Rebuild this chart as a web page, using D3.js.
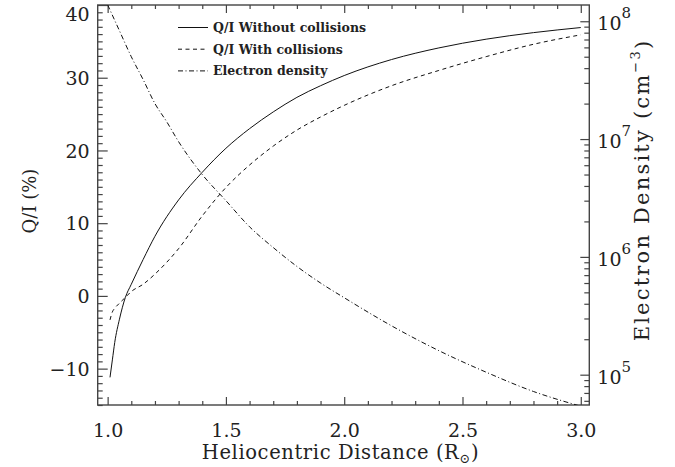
<!DOCTYPE html>
<html>
<head>
<meta charset="utf-8">
<script src="https://cdn.jsdelivr.net/npm/d3@7/dist/d3.min.js"></script>
<style>
  body { margin: 0; background: #fff; }
  svg text { font-family: "DejaVu Serif", serif; fill: #222; }
</style>
</head>
<body>
<svg id="chart" width="675" height="467"></svg>
<script>
// Q/I and electron density vs heliocentric distance

// Q/I curves (%), sampled on one distance grid (R_sun)
const distance = [1.01, 1.02, 1.03, 1.05, 1.075, 1.1, 1.15, 1.2, 1.3, 1.4, 1.5, 1.6, 1.7, 1.8, 1.9, 2.0, 2.2, 2.4, 2.6, 2.8, 3.0];
const qiNoCollisions = [-11.2, -8.8, -6.4, -3.2, -0.2, 1.6, 5.0, 8.2, 13.2, 17.0, 20.3, 23.0, 25.3, 27.3, 28.9, 30.3, 32.5, 34.1, 35.3, 36.2, 36.9];
const qiCollisions = [-3.3, -2.2, -1.7, -1.0, -0.2, 0.6, 1.6, 3.0, 6.5, 11.0, 14.9, 18.0, 20.6, 22.8, 24.6, 26.2, 28.9, 31.0, 32.9, 34.6, 35.9];

// Electron density (cm^-3)
const densityDistance = [1.0, 1.05, 1.1, 1.15, 1.2, 1.25, 1.3, 1.4, 1.5, 1.6, 1.7, 1.8, 1.9, 2.0, 2.2, 2.4, 2.6, 2.8, 3.0];
const electronDensity = [1.38e8, 8.3e7, 5.0e7, 3.2e7, 2.0e7, 1.4e7, 9.5e6, 5.0e6, 3.0e6, 1.8e6, 1.2e6, 8.3e5, 6.0e5, 4.5e5, 2.6e5, 1.6e5, 1.05e5, 7.2e4, 5.4e4];

// Axis ticks
const xTicks = [1.0, 1.5, 2.0, 2.5, 3.0];
const qiTicks = [-10, 0, 10, 20, 30, 40];
const densityExponents = [5, 6, 7, 8];

const legendLabels = ["Q/I Without collisions", "Q/I With collisions", "Electron density"];

const DASHES = { solid: null, dashed: "4,3.5", dashdot: "5,2.5,1,2.5" };
const INK = "#111";
const AXIS = "#444";

const svg = d3.select("#chart");
const box = { left: 97.7, right: 589.3, top: 5, bottom: 405 };

const x = d3.scaleLinear().domain([0.958, 3.036]).range([box.left, box.right]);
const yQ = d3.scaleLinear().domain([-15, 40]).range([box.bottom, box.top]);
const yN = d3.scaleLog().domain([5.53e4, 1.374e8]).range([box.bottom, box.top]);

svg.append("defs").append("clipPath").attr("id", "plot-clip")
  .append("rect")
  .attr("x", box.left).attr("y", box.top)
  .attr("width", box.right - box.left).attr("height", box.bottom - box.top);

// Minor + major ticks along bottom and top
const xMinor = d3.range(10, 31).map(d => d / 10).filter(d => !xTicks.some(t => Math.abs(t - d) < 1e-6));

function drawXTicks(axisFn, yPos) {
  svg.append("g")
    .attr("transform", `translate(0,${yPos})`)
    .call(axisFn(x).tickValues(xMinor).tickSize(-4).tickFormat(""))
    .call(g => g.select(".domain").remove());
  return svg.append("g")
    .attr("transform", `translate(0,${yPos})`)
    .call(axisFn(x).tickValues(xTicks).tickSize(-8))
    .call(g => g.select(".domain").remove());
}

const bottomAxis = drawXTicks(d3.axisBottom, box.bottom);
bottomAxis.selectAll("text")
  .attr("y", 25).attr("dy", "0.35em")
  .attr("font-size", 19)
  .text(d => d.toFixed(1));

const topAxis = drawXTicks(d3.axisTop, box.top);
topAxis.selectAll("text").remove();

// Left Q/I axis, minor tick every 1 %
const qMinor = d3.range(-15, 41).filter(d => d % 10 !== 0);
svg.append("g")
  .attr("transform", `translate(${box.left},0)`)
  .call(d3.axisLeft(yQ).tickValues(qMinor).tickSize(-5).tickFormat(""))
  .call(g => g.select(".domain").remove());

svg.append("g")
  .attr("transform", `translate(${box.left},0)`)
  .call(d3.axisLeft(yQ).tickValues(qiTicks).tickSize(-10).tickFormat(d => d < 0 ? "\u2212" + Math.abs(d) : d))
  .call(g => g.select(".domain").remove())
  .call(g => g.selectAll("text")
    .attr("x", -8)
    .attr("font-size", 19)
    .attr("y", d => Math.max(yQ(d), 14) - yQ(d))
    .attr("dy", "0.35em"));

// Right log axis for electron density
const nMinor = yN.ticks().filter(d => {
  const e = Math.log10(d);
  return Math.abs(e - Math.round(e)) > 1e-6;
});
svg.append("g")
  .attr("transform", `translate(${box.right},0)`)
  .call(d3.axisRight(yN).tickValues(nMinor).tickSize(-5).tickFormat(""))
  .call(g => g.select(".domain").remove());

const rightAxis = svg.append("g")
  .attr("transform", `translate(${box.right},0)`)
  .call(d3.axisRight(yN).tickValues(densityExponents.map(e => Math.pow(10, e))).tickSize(-9).tickFormat(""))
  .call(g => g.select(".domain").remove());

rightAxis.selectAll(".tick").each(function(d) {
  const t = d3.select(this).append("text")
    .attr("x", 8).attr("dy", "0.45em")
    .attr("text-anchor", "start")
    .attr("font-size", 19);
  t.append("tspan").text("10");
  t.append("tspan")
    .attr("font-size", 15)
    .attr("dy", "-0.8em")
    .text(Math.round(Math.log10(d)));
});

svg.selectAll(".tick line").attr("stroke", AXIS).attr("stroke-width", 1.2);

// Plot frame
svg.append("rect")
  .attr("x", box.left).attr("y", box.top)
  .attr("width", box.right - box.left).attr("height", box.bottom - box.top)
  .attr("fill", "none")
  .attr("stroke", AXIS)
  .attr("stroke-width", 1.4);

// Curves
const plot = svg.append("g").attr("clip-path", "url(#plot-clip)");

const qLine = d3.line().curve(d3.curveMonotoneX).x((d, i) => x(distance[i])).y(d => yQ(d));
const nLine = d3.line().curve(d3.curveMonotoneX).x((d, i) => x(densityDistance[i])).y(d => yN(d));

const series = [
  { values: qiNoCollisions, line: qLine, dash: DASHES.solid },
  { values: qiCollisions, line: qLine, dash: DASHES.dashed },
  { values: electronDensity, line: nLine, dash: DASHES.dashdot }
];

plot.selectAll("path.curve")
  .data(series)
  .join("path")
  .attr("class", "curve")
  .attr("d", d => d.line(d.values))
  .attr("fill", "none")
  .attr("stroke", INK)
  .attr("stroke-width", 1)
  .attr("stroke-dasharray", d => d.dash);

// Legend
const legend = svg.append("g").attr("transform", "translate(178,27.5)");
legendLabels.forEach((label, i) => {
  const row = legend.append("g").attr("transform", `translate(0,${i * 21.7})`);
  row.append("line")
    .attr("x1", 0).attr("x2", 30)
    .attr("stroke", INK).attr("stroke-width", 1)
    .attr("stroke-dasharray", series[i].dash);
  row.append("text")
    .attr("x", 35).attr("dy", "0.35em")
    .attr("font-size", 12.5)
    .attr("font-weight", "bold")
    .text(label);
});

// Axis titles
svg.append("text")
  .attr("x", (box.left + box.right) / 2 - 3).attr("y", 459)
  .attr("text-anchor", "middle")
  .attr("font-size", 19.5)
  .attr("letter-spacing", 0.6)
  .call(t => {
    t.append("tspan").text("Heliocentric Distance (R");
    t.append("tspan").attr("font-size", 13).attr("dy", "0.3em").text("\u2299");
    t.append("tspan").attr("dy", "-0.2em").text(")");
  });

svg.append("text")
  .attr("transform", "translate(30,201) rotate(-90)")
  .attr("text-anchor", "middle")
  .attr("dy", "0.35em")
  .attr("font-size", 18)
  .text("Q/I (%)");

svg.append("text")
  .attr("transform", "translate(642,190) rotate(-90)")
  .attr("text-anchor", "middle")
  .attr("dy", "0.35em")
  .attr("font-size", 21)
  .attr("letter-spacing", 2.2)
  .call(t => {
    t.append("tspan").text("Electron Density (cm");
    t.append("tspan").attr("font-size", 13).attr("dy", "-0.7em").text("\u22123");
    t.append("tspan").attr("dy", "0.45em").text(")");
  });
</script>
</body>
</html>
